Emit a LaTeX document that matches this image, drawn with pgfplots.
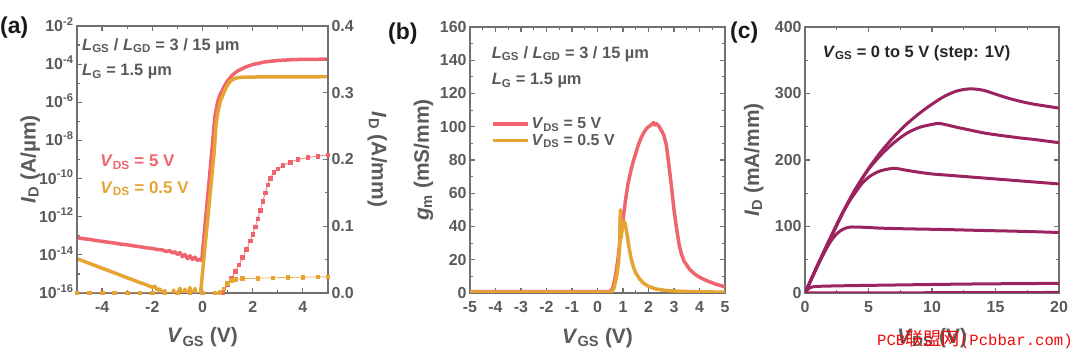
\documentclass[border=0pt]{standalone}
\usepackage{pgfplots}
\pgfplotsset{compat=1.18}
\usepackage{fontspec}
\setmainfont{Liberation Sans}
\newfontfamily\cjk{Noto Sans CJK SC}
\newfontfamily\wmono{Liberation Mono}
\definecolor{cred}{RGB}{240,100,110}
\definecolor{corange}{RGB}{230,165,50}
\definecolor{cpurple}{RGB}{155,35,95}
\definecolor{tgray}{RGB}{90,90,90}
\definecolor{agray}{RGB}{112,112,112}
\definecolor{wred}{RGB}{240,10,10}
\newcommand{\fs}[1]{\fontsize{#1}{#1}\selectfont}
\pgfplotsset{
  base/.style={
    scale only axis,
    anchor=south west,
    axis line style={agray, line width=1.6bp},
    every tick/.style={agray, line width=1.2bp},
    major tick length=5bp, minor tick length=3bp,
    tick align=inside,
    ticklabel style={font=\bfseries\fs{16}, text=tgray},
    xticklabel style={yshift=-5bp},
  },
  xlab/.style={every axis x label/.style={at={(axis description cs:0.5,#1)}, anchor=base, font=\bfseries\fs{21}, text=tgray}},
  ylab/.style 2 args={every axis y label/.style={at={(axis description cs:#1,0.5)}, anchor=base, rotate=#2, font=\bfseries\fs{21}, text=tgray}},
}
\begin{document}
\begin{tikzpicture}
\path[use as bounding box] (0bp,0bp) rectangle (1080bp,353bp);

% ---------------- panel (a) ----------------
\begin{axis}[base, at={(77bp,60bp)}, width=251bp, height=267bp,
  xmin=-5, xmax=5, ymin=-16, ymax=-2,
  xtick={-4,-2,0,2,4}, xticklabels={-4,-2,0,2,4},
  minor xtick={-5,-3,-1,1,3,5},
  ytick={-16,-14,-12,-10,-8,-6,-4,-2},
  yticklabels={10\smash{\textsuperscript{-16}},10\smash{\textsuperscript{-14}},10\smash{\textsuperscript{-12}},10\smash{\textsuperscript{-10}},10\smash{\textsuperscript{-8}},10\smash{\textsuperscript{-6}},10\smash{\textsuperscript{-4}},10\smash{\textsuperscript{-2}}},
  minor ytick={-15,-13,-11,-9,-7,-5,-3},
  ytick pos=left,
  xlabel={\textit{V}\textsubscript{GS} (V)},
  ylabel={\textit{I}\textsubscript{D} (A/µm)},
  xlab=-0.187, ylab={-0.165}{90},
  clip=true,
]
\addplot[cred, line width=3.5bp, line join=round] coordinates {
(-5,-13.10) (-4.75,-13.15) (-4.5,-13.19) (-4.25,-13.25) (-4,-13.29) (-3.75,-13.34) (-3.5,-13.38)
(-3.25,-13.44) (-3,-13.47) (-2.75,-13.53) (-2.5,-13.57) (-2.25,-13.63) (-2,-13.66) (-1.8,-13.72)
(-1.6,-13.74) (-1.45,-13.82) (-1.3,-13.78) (-1.2,-13.9) (-1.1,-13.84) (-1.0,-13.98) (-0.9,-13.88)
(-0.8,-14.1) (-0.7,-13.98) (-0.6,-14.2) (-0.5,-14.05) (-0.4,-14.25) (-0.3,-14.12) (-0.2,-14.3)
(-0.1,-14.22) (-0.03,-14.3) (0.37,-8.6) (0.45,-7.4) (0.5,-6.7) (0.6,-6.0) (0.7,-5.6) (0.85,-5.2)
(1.0,-4.87) (1.2,-4.56) (1.4,-4.36) (1.7,-4.16) (2.0,-4.02) (2.5,-3.88) (3.0,-3.81) (3.5,-3.77)
(4.0,-3.75) (5.0,-3.74)};
\addplot[corange, line width=3.5bp, line join=round] coordinates {
(-5,-14.2) (-4.5,-14.45) (-4,-14.7) (-3.5,-14.95) (-3,-15.2) (-2.5,-15.45) (-2.25,-15.56)
(-2.0,-15.7) (-1.9,-15.64) (-1.8,-15.85) (-1.7,-15.78) (-1.6,-16.0) (-1.5,-15.88) (-1.4,-16.2)
(-1.25,-16.3) (-1.15,-15.85) (-1.05,-16.3) (-0.9,-15.75) (-0.8,-16.3) (-0.7,-15.8) (-0.6,-16.3)
(-0.5,-15.72) (-0.4,-16.3) (-0.3,-15.76) (-0.2,-16.3) (-0.1,-16.3) (0.47,-8.55) (0.53,-7.3)
(0.6,-6.6) (0.7,-6.0) (0.83,-5.55) (0.95,-5.2) (1.1,-4.9) (1.25,-4.77) (1.4,-4.71) (1.7,-4.68)
(2.5,-4.67) (5.0,-4.66)};
\node[anchor=base west, inner sep=0, text=tgray, font=\bfseries\fs{16.5}] at (axis description cs:0.02,0.91) {\textit{L}\textsubscript{GS} / \textit{L}\textsubscript{GD} = 3 / 15 µm};
\node[anchor=base west, inner sep=0, text=tgray, font=\bfseries\fs{16.5}] at (axis description cs:0.02,0.813) {\textit{L}\textsubscript{G} = 1.5 µm};
\node[anchor=base west, inner sep=0, text=cred, font=\bfseries\fs{17}] at (axis description cs:0.092,0.473) {\textit{V}\textsubscript{DS} = 5 V};
\node[anchor=base west, inner sep=0, text=corange, font=\bfseries\fs{17}] at (axis description cs:0.092,0.373) {\textit{V}\textsubscript{DS} = 0.5 V};
\end{axis}
\begin{axis}[base, at={(77bp,60bp)}, width=251bp, height=267bp,
  xmin=-5, xmax=5, ymin=0, ymax=0.4,
  hide x axis,
  ytick={0,0.1,0.2,0.3,0.4}, yticklabels={0.0,0.1,0.2,0.3,0.4},
  minor ytick={0.05,0.15,0.25,0.35},
  ytick pos=right, yticklabel pos=right,
  ylabel={\textit{I}\textsubscript{D} (A/mm)},
  ylab={1.175}{-90},
  clip=true,
]
\addplot[cred!85, line width=0.8bp, mark=square*, mark size=1.8bp, mark options={solid, cred}] coordinates {
(-5,0) (-4.5,0) (-4,0) (-3.5,0) (-3,0) (-2.5,0) (-2,0) (-1.5,0) (-1,0) (-0.5,0) (0,0) (0.5,0)
(0.8,0.001) (1.0,0.012) (1.15,0.022) (1.3,0.032) (1.45,0.042) (1.6,0.053) (1.75,0.065) (1.9,0.078)
(2.0,0.088) (2.1,0.099) (2.2,0.111) (2.3,0.124) (2.4,0.137) (2.5,0.150) (2.6,0.162) (2.7,0.172)
(2.85,0.181) (3.0,0.186) (3.2,0.191) (3.5,0.196) (3.8,0.200) (4.2,0.203) (4.6,0.205) (5.0,0.207)};
\addplot[corange!85, line width=0.8bp, mark=square*, mark size=1.8bp, mark options={solid, corange}] coordinates {
(-5,0) (-4.5,0) (-4,0) (-3.5,0) (-3,0) (-2.5,0) (-2,0) (-1.5,0) (-1,0) (-0.5,0) (0,0) (0.5,0)
(0.7,0.001) (0.85,0.006) (1.0,0.014) (1.15,0.019) (1.3,0.0205) (1.6,0.0215) (2.2,0.022) (2.8,0.0228)
(3.4,0.0233) (4.0,0.0237) (4.6,0.0241) (5.0,0.0244)};
\end{axis}

% ---------------- panel (b) ----------------
\begin{axis}[base, at={(470bp,60bp)}, width=255bp, height=266bp,
  xmin=-5, xmax=5, ymin=0, ymax=160,
  xtick={-5,-4,-3,-2,-1,0,1,2,3,4,5}, xticklabels={-5,-4,-3,-2,-1,0,1,2,3,4,5},
  minor xtick={-4.5,-3.5,-2.5,-1.5,-0.5,0.5,1.5,2.5,3.5,4.5},
  ytick={0,20,40,60,80,100,120,140,160}, yticklabels={0,20,40,60,80,100,120,140,160},
  minor ytick={10,30,50,70,90,110,130,150},
  xlabel={\textit{V}\textsubscript{GS} (V)},
  ylabel={\textit{g}\textsubscript{m} (mS/mm)},
  xlab=-0.188, ylab={-0.161}{90},
  legend style={draw=none, fill=none, at={(axis description cs:0.07,0.675)}, anchor=north west,
    font=\bfseries\fs{16}, text=tgray, row sep=0pt},
  legend cell align=left,
  legend image code/.code={\draw[#1, line width=3.5bp] (0bp,0bp) -- (35bp,0bp);},
  clip=true,
]
\addplot[cred, line width=3.5bp, line join=round] coordinates {
(-5,0.8) (0.5,0.8) (0.6,3) (0.7,10) (0.8,20) (0.87,30) (0.9,46) (0.92,36) (0.95,38) (1.0,44)
(1.1,56) (1.2,66) (1.3,73) (1.4,79) (1.5,84) (1.6,89) (1.7,93) (1.8,96) (1.9,98.5) (2.0,100)
(2.1,101) (2.2,102.5) (2.25,101) (2.3,102) (2.4,100.5) (2.5,98) (2.6,95) (2.7,89) (2.8,77)
(2.9,64) (3.0,50) (3.1,39) (3.2,29) (3.3,23) (3.4,19) (3.6,14.5) (3.8,11.5) (4.0,9.5)
(4.3,7.3) (4.6,5.5) (5.0,3.7)};
\addlegendentry{\textit{V}\textsubscript{DS} = 5 V}
\addplot[corange, line width=3.5bp, line join=round] coordinates {
(-5,0.5) (0.55,0.5) (0.65,3) (0.75,10) (0.82,18) (0.87,28) (0.9,50) (0.93,33) (0.97,40)
(1.03,43) (1.08,42) (1.15,36) (1.22,29) (1.3,22) (1.4,16) (1.5,12) (1.65,8.5) (1.8,6) (2.0,4)
(2.3,2.4) (2.7,1.5) (3.2,1) (4.0,0.7) (5.0,0.5)};
\addlegendentry{\textit{V}\textsubscript{DS} = 0.5 V}
\node[anchor=base west, inner sep=0, text=tgray, font=\bfseries\fs{16.5}] at (axis description cs:0.085,0.882) {\textit{L}\textsubscript{GS} / \textit{L}\textsubscript{GD} = 3 / 15 µm};
\node[anchor=base west, inner sep=0, text=tgray, font=\bfseries\fs{16.5}] at (axis description cs:0.085,0.782) {\textit{L}\textsubscript{G} = 1.5 µm};
\end{axis}

% ---------------- panel (c) ----------------
\begin{axis}[base, at={(805bp,60bp)}, width=254bp, height=266bp,
  xmin=0, xmax=20, ymin=0, ymax=400,
  xtick={0,5,10,15,20}, xticklabels={0,5,10,15,20},
  minor xtick={2.5,7.5,12.5,17.5},
  ytick={0,100,200,300,400}, yticklabels={0,100,200,300,400},
  minor ytick={50,150,250,350},
  xlabel={\textit{V}\textsubscript{DS} (V)},
  ylabel={\textit{I}\textsubscript{D} (mA/mm)},
  xlab=-0.188, ylab={-0.181}{90},
  clip=true,
]
\addplot[cpurple, line width=3bp, smooth, tension=0.5] coordinates {(0,0) (20,0.8)};
\addplot[cpurple, line width=3bp, smooth, tension=0.5] coordinates {
(0,0) (0.2,5) (0.4,8) (0.7,9.5) (1,10) (2,10.5) (4,11.2) (7,12) (10,12.8) (14,13.7) (20,14.5)};
\addplot[cpurple, line width=3bp, smooth, tension=0.5] coordinates {
(0,0) (0.5,21) (1,41) (1.5,60) (2,77) (2.5,89) (3,96) (3.5,99) (4,99.2) (5,98.5) (6,97.5)
(8,96.5) (10,95.8) (12,95) (14,94) (16,93.2) (18,92.2) (20,91)};
\addplot[cpurple, line width=3bp, smooth, tension=0.5] coordinates {
(0,0) (0.5,21) (1,42) (2,82) (3,121) (3.5,138) (4,152) (4.5,165) (5,174) (5.5,180) (6,184)
(7,187.5) (8,184.5) (9,181.5) (10,179) (11,177.5) (12,176) (14,173) (16,170) (18,167) (20,164)};
\addplot[cpurple, line width=3bp, smooth, tension=0.5] coordinates {
(0,0) (0.5,21) (1,42) (2,83) (3,122) (4,157) (5,186) (6,208) (7,226) (8,240) (9,249)
(10,253.5) (10.5,255) (11,253.5) (12,249) (13,245) (14,241) (15,238) (16,235.5) (17,233)
(18,231) (19,228.5) (20,226)};
\addplot[cpurple, line width=3bp, smooth, tension=0.5] coordinates {
(0,0) (0.5,21) (1,42) (2,83) (3,122) (4,157) (5,187) (6,213) (7,235) (8,254) (9,270)
(10,284) (11,296) (12,304) (13,307) (14,305) (15,299) (16,293) (17,288) (18,284) (19,281) (20,278)};
\node[anchor=base west, inner sep=0, text=black!85, font=\bfseries\fs{16.5}] at (axis description cs:0.07,0.886) {\textit{V}\textsubscript{GS} = 0 to 5 V (step: 1V)};
\end{axis}

% panel labels
\node[anchor=west, inner sep=0, font=\bfseries\fs{23}, text=black!90] at (0bp,325.5bp) {(a)};
\node[anchor=west, inner sep=0, font=\bfseries\fs{23}, text=black!90] at (388bp,319bp) {(b)};
\node[anchor=west, inner sep=0, font=\bfseries\fs{23}, text=black!90] at (730bp,320.5bp) {(c)};
% watermark
\node[anchor=base west, inner sep=0, text=wred] at (877bp,8bp) {\wmono\fs{15.7}PCB{\cjk\fs{18.3}联盟网}(Pcbbar.com)};
\end{tikzpicture}
\end{document}
